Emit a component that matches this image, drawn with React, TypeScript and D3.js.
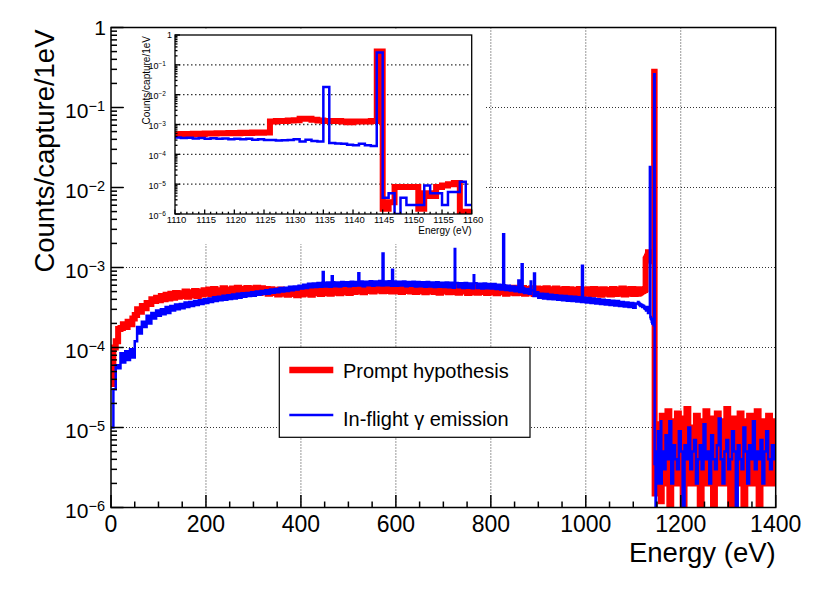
import * as React from "react";
import * as d3 from "d3";

// every count below is in units of 1e-6 counts/capture/1eV
const UNIT = 1e-6;

// 0 - 1110 eV, 5 eV bins
const coarseStart = 0;
const coarseWidth = 5;
const promptCoarse = [
  35, 100, 120, 170, 175, 195, 180, 210, 195, 230, 255, 300, 280, 330, 310, 360, 350, 400, 380, 420,
  390, 440, 400, 455, 410, 470, 420, 480, 430, 475, 440, 500, 430, 490, 450, 510, 440, 500, 460, 520,
  470, 530, 460, 540, 480, 520, 470, 550, 490, 530, 475, 545, 495, 560, 480, 540, 500, 555, 485, 545,
  500, 560, 480, 550, 495, 540, 470, 535, 480, 520, 460, 530, 470, 515, 455, 525, 465, 510, 450, 520,
  460, 515, 470, 530, 455, 525, 475, 540, 465, 535, 480, 545, 470, 550, 485, 560, 475, 555, 490, 565,
  480, 570, 495, 560, 500, 580, 490, 575, 510, 585, 500, 590, 515, 580, 505, 595, 510, 585, 500, 590,
  505, 580, 495, 590, 510, 575, 500, 585, 495, 570, 505, 580, 490, 575, 500, 565, 495, 580, 485, 570,
  500, 575, 490, 565, 495, 580, 485, 570, 500, 560, 480, 575, 490, 565, 485, 560, 495, 570, 480, 560,
  490, 565, 475, 555, 490, 560, 470, 550, 485, 560, 475, 545, 480, 555, 470, 540, 485, 550, 465, 545,
  475, 540, 465, 550, 470, 535, 460, 545, 475, 530, 465, 540, 455, 535, 470, 525, 460, 540, 465, 530,
  470, 535, 460, 540, 465, 530, 455, 535, 470, 525, 460, 540, 465, 530, 470, 545, 460, 535, 470, 540,
  465, 535,
];
const inflightCoarse = [
  10, 30, 60, 55, 85, 65, 90, 70, 95, 75, 120, 180, 150, 210, 180, 250, 200, 270, 230, 290,
  250, 300, 260, 320, 270, 330, 290, 345, 300, 350, 310, 365, 320, 370, 330, 380, 340, 390, 350, 400,
  360, 410, 370, 425, 380, 430, 390, 445, 395, 450, 405, 460, 410, 470, 420, 475, 430, 480, 440, 490,
  445, 500, 455, 510, 465, 520, 470, 530, 485, 540, 490, 555, 500, 560, 510, 575, 520, 580, 530, 590,
  545, 610, 555, 625, 565, 630, 570, 640, 575, 645, 580, 650, 575, 655, 585, 650, 580, 660, 590, 655,
  585, 665, 590, 660, 595, 670, 585, 665, 600, 675, 590, 670, 600, 680, 595, 670, 600, 675, 590, 670,
  590, 665, 595, 670, 585, 660, 590, 665, 580, 660, 585, 655, 575, 660, 580, 650, 570, 655, 575, 645,
  570, 650, 565, 645, 560, 640, 565, 635, 555, 640, 560, 630, 550, 635, 555, 625, 545, 630, 550, 620,
  545, 620, 540, 610, 530, 600, 525, 590, 515, 580, 505, 570, 495, 555, 480, 540, 470, 520, 440, 490,
  420, 470, 410, 465, 405, 455, 400, 450, 395, 445, 390, 440, 385, 435, 380, 430, 375, 425, 370, 420,
  365, 415, 360, 410, 355, 400, 350, 395, 345, 390, 340, 385, 335, 380, 330, 370, 325, 365, 320, 360,
  315, 355,
];
// narrow lines on the in-flight spectrum: [energy, value]
const inflightLines: [number, number][] = [
  [446, 880], [465, 780], [521, 850], [572, 1500], [592, 940], [724, 1700], [764, 800],
  [826, 2600], [858, 690], [865, 1100], [884, 670], [891, 840], [992, 1050],
];
const lineWidthEv = 2;

// 1110 - 1160 eV, 1 eV bins (also shown in the inset)
const fineStart = 1110;
const fineWidth = 1;
const promptFine = [
  470, 480, 475, 490, 485, 500, 495, 510, 505, 520, 510, 530, 520, 535, 525, 540,
  1250, 1300, 1300, 1350, 1400, 1550, 1550, 1450, 1350, 1300, 1300, 1300, 1250, 1200, 1250, 1250, 1250, 1300,
  280000,
  1.5, 2.5, 8, 8, 8, 8, 1.5, 5, 4, 8, 9, 10, 11, 1.2, 1.2,
];
const inflightFine = [
  370, 350, 360, 340, 350, 330, 345, 330, 340, 320, 335, 320, 330, 310, 320, 305,
  300, 290, 295, 300, 320, 270, 310, 280, 270,
  18000,
  240, 230, 225, 210, 200, 225, 200, 190,
  260000,
  3.5, 5, 0, 3.5, 2, 2, 2, 9, 5, 5, 2, 5.5, 5.5, 12, 2,
];

// 1160 - 1400 eV, 4 eV bins
const tailStart = 1160;
const tailWidth = 4;
const promptTail = [
  14, 2, 10, 16, 0, 12, 2, 9, 15, 2, 11, 0, 13, 17, 2, 10, 8, 2, 14, 12,
  0, 2, 11, 16, 9, 2, 13, 0, 10, 15, 2, 12, 8, 2, 17, 11, 0, 2, 13, 10,
  2, 15, 9, 0, 12, 2, 14, 11, 2, 8, 16, 0, 2, 12, 10, 2, 14, 9, 2, 12,
];
const inflightTail = [
  5, 3, 8, 4, 12, 2, 6, 4, 3, 9, 5, 1, 6, 4, 10, 3, 5, 7, 2, 4,
  6, 3, 11, 4, 5, 2, 8, 4, 3, 6, 13, 4, 2, 5, 7, 3, 4, 9, 5, 1,
  6, 4, 3, 10, 5, 2, 6, 4, 12, 3, 5, 4, 7, 2, 5, 9, 4, 3, 6, 4,
];

const xTicksMain = [0, 200, 400, 600, 800, 1000, 1200, 1400];
const xTicksInset = [1110, 1115, 1120, 1125, 1130, 1135, 1140, 1145, 1150, 1155, 1160];
const decades = [0, -1, -2, -3, -4, -5, -6];

const RED = "#ff0000";
const BLUE = "#0000ff";
const FONT = '"Liberation Sans", Arial, Helvetica, sans-serif';

interface Bin {
  lo: number;
  hi: number;
  v: number;
}

function binsFrom(values: number[], start: number, width: number): Bin[] {
  return values.map((v, i) => ({ lo: start + i * width, hi: start + (i + 1) * width, v: v * UNIT }));
}

function withLines(bins: Bin[], lines: [number, number][]): Bin[] {
  const out: Bin[] = [];
  bins.forEach((b) => {
    const inside = lines.filter(([e]) => e >= b.lo && e < b.hi);
    if (!inside.length) {
      out.push(b);
      return;
    }
    let cur = b.lo;
    inside.forEach(([e, val]) => {
      if (e > cur) out.push({ lo: cur, hi: e, v: b.v });
      const end = Math.min(e + lineWidthEv, b.hi);
      out.push({ lo: e, hi: end, v: val * UNIT });
      cur = end;
    });
    if (cur < b.hi) out.push({ lo: cur, hi: b.hi, v: b.v });
  });
  return out;
}

function stepPoints(bins: Bin[]): [number, number][] {
  const pts: [number, number][] = [];
  bins.forEach((b) => {
    pts.push([b.lo, b.v], [b.hi, b.v]);
  });
  return pts;
}

const promptFineBins = binsFrom(promptFine, fineStart, fineWidth);
const inflightFineBins = binsFrom(inflightFine, fineStart, fineWidth);

const promptBins = [
  ...binsFrom(promptCoarse, coarseStart, coarseWidth),
  ...promptFineBins,
  ...binsFrom(promptTail, tailStart, tailWidth),
];
const inflightBins = [
  ...withLines(binsFrom(inflightCoarse, coarseStart, coarseWidth), inflightLines),
  ...inflightFineBins,
  ...binsFrom(inflightTail, tailStart, tailWidth),
];

function LogLabel({ x, y, exp, size, sup, anchorRight }: { x: number; y: number; exp: number; size: number; sup: number; anchorRight: number }) {
  if (exp === 0) {
    return (
      <text x={x + anchorRight} y={y + size * 0.36} fontSize={size} textAnchor="end" fontFamily={FONT}>
        1
      </text>
    );
  }
  return (
    <text x={x} y={y + size * 0.5} fontSize={size} textAnchor="end" fontFamily={FONT}>
      10
      <tspan fontSize={sup} dy={-size * 0.32}>{"\u2212" + Math.abs(exp)}</tspan>
    </text>
  );
}

export default function App() {
  // main frame
  const L = 111, R = 775.7, T = 27.5, B = 507.5;
  const x = d3.scaleLinear().domain([0, 1400]).range([L, R]);
  const y = d3.scaleLog().domain([1e-6, 1]).range([B, T]);

  // inset frame
  const iL = 175, iR = 471.7, iT = 35, iB = 214;
  const ix = d3.scaleLinear().domain([1110, 1160]).range([iL, iR]);
  const iy = d3.scaleLog().domain([1e-6, 1]).range([iB, iT]);

  const mainLine = d3
    .line<[number, number]>()
    .x((d) => x(d[0]))
    .y((d) => y(Math.max(d[1], 1e-6)));
  const insetLine = d3
    .line<[number, number]>()
    .x((d) => ix(d[0]))
    .y((d) => iy(Math.max(d[1], 1e-6)));

  const minorX = d3.range(0, 1401, 50).filter((v) => v % 200 !== 0);
  const minorY: number[] = [];
  decades.forEach((e) => {
    if (e === 0) return;
    for (let k = 2; k <= 9; k++) minorY.push(k * Math.pow(10, e));
  });
  const minorIX = d3.range(1110, 1161, 1).filter((v) => v % 5 !== 0);

  return (
    <svg width={830} height={599} style={{ position: "absolute", left: 0, top: 0 }} fontFamily={FONT}>
      <rect width={830} height={599} fill="#fff" />
      <defs>
        <clipPath id="mainClip">
          <rect x={L} y={T} width={R - L} height={B - T} />
        </clipPath>
        <clipPath id="insetClip">
          <rect x={iL} y={iT} width={iR - iL} height={iB - iT} />
        </clipPath>
      </defs>

      {/* grid */}
      <g stroke="#333" strokeWidth={1} strokeDasharray="1,2">
        {xTicksMain.slice(1, -1).map((t) => (
          <line key={"gx" + t} x1={x(t)} x2={x(t)} y1={T} y2={B} />
        ))}
        {decades.slice(1, -1).map((e) => (
          <line key={"gy" + e} x1={L} x2={R} y1={y(Math.pow(10, e))} y2={y(Math.pow(10, e))} />
        ))}
      </g>

      {/* spectra */}
      <g clipPath="url(#mainClip)" fill="none" strokeLinejoin="miter">
        <path d={mainLine(stepPoints(promptBins)) ?? ""} stroke={RED} strokeWidth={6} />
        <path d={mainLine(stepPoints(inflightBins)) ?? ""} stroke={BLUE} strokeWidth={2.5} />
      </g>

      {/* inset pad */}
      <rect x={125} y={29} width={359} height={215} fill="#fff" />

      {/* main frame and ticks */}
      <g stroke="#000" strokeWidth={1.5}>
        <rect x={L} y={T} width={R - L} height={B - T} fill="none" />
        {xTicksMain.map((t) => (
          <line key={"tx" + t} x1={x(t)} x2={x(t)} y1={B} y2={B - 12.5} />
        ))}
        {minorX.map((t) => (
          <line key={"mx" + t} x1={x(t)} x2={x(t)} y1={B} y2={B - 6} />
        ))}
        {decades.map((e) => (
          <line key={"ty" + e} x1={L} x2={L + 12.5} y1={y(Math.pow(10, e))} y2={y(Math.pow(10, e))} />
        ))}
        {minorY.map((v, i) => (
          <line key={"my" + i} x1={L} x2={L + 6} y1={y(v)} y2={y(v)} />
        ))}
      </g>
      <g fontSize={23} textAnchor="middle">
        {xTicksMain.map((t) => (
          <text key={"lx" + t} x={x(t)} y={531.5}>
            {t}
          </text>
        ))}
      </g>
      {decades.map((e) => (
        <LogLabel key={"ly" + e} x={105} y={y(Math.pow(10, e))} exp={e} size={21} sup={14.5} anchorRight={1} />
      ))}
      <text x={R} y={562} fontSize={27.5} textAnchor="end">
        Energy (eV)
      </text>
      <text transform={`translate(53.5, ${T + 2}) rotate(-90)`} fontSize={27.5} textAnchor="end">
        Counts/capture/1eV
      </text>

      {/* inset */}
      <g stroke="#333" strokeWidth={1.3} strokeDasharray="1.5,2.5">
        {decades.slice(1, -1).map((e) => (
          <line key={"igy" + e} x1={iL} x2={iR} y1={iy(Math.pow(10, e))} y2={iy(Math.pow(10, e))} />
        ))}
      </g>
      <g clipPath="url(#insetClip)" fill="none">
        <path d={insetLine(stepPoints(promptFineBins)) ?? ""} stroke={RED} strokeWidth={6} />
        <path d={insetLine(stepPoints(inflightFineBins)) ?? ""} stroke={BLUE} strokeWidth={2.5} />
      </g>
      <g stroke="#000" strokeWidth={1.3}>
        <rect x={iL} y={iT} width={iR - iL} height={iB - iT} fill="none" />
        {xTicksInset.map((t) => (
          <line key={"itx" + t} x1={ix(t)} x2={ix(t)} y1={iB} y2={iB - 4.5} />
        ))}
        {minorIX.map((t) => (
          <line key={"imx" + t} x1={ix(t)} x2={ix(t)} y1={iB} y2={iB - 2.3} />
        ))}
        {decades.map((e) => (
          <line key={"ity" + e} x1={iL} x2={iL + 5} y1={iy(Math.pow(10, e))} y2={iy(Math.pow(10, e))} />
        ))}
        {minorY.map((v, i) => (
          <line key={"imy" + i} x1={iL} x2={iL + 2.5} y1={iy(v)} y2={iy(v)} />
        ))}
      </g>
      <g fontSize={9.5} textAnchor="middle">
        {xTicksInset.map((t) => (
          <text key={"ilx" + t} x={ix(t) + 1.5} y={223.3}>
            {t}
          </text>
        ))}
      </g>
      {decades.map((e) => (
        <LogLabel key={"ily" + e} x={166} y={iy(Math.pow(10, e))} exp={e} size={9} sup={6.5} anchorRight={6} />
      ))}
      <text x={iR} y={234} fontSize={10} textAnchor="end">
        Energy (eV)
      </text>
      <text transform={`translate(149.5, ${iT + 1}) rotate(-90)`} fontSize={10} textAnchor="end">
        Counts/capture/1eV
      </text>

      {/* legend */}
      <rect x={279.3} y={347.3} width={250.7} height={90} fill="#fff" stroke="#000" strokeWidth={1.2} />
      <line x1={289.3} x2={333.3} y1={370} y2={370} stroke={RED} strokeWidth={6.5} />
      <text x={343} y={378.3} fontSize={20}>
        Prompt hypothesis
      </text>
      <line x1={289.3} x2={333.3} y1={415} y2={415} stroke={BLUE} strokeWidth={2.6} />
      <text x={343} y={426} fontSize={20}>
        In-flight γ emission
      </text>
    </svg>
  );
}
